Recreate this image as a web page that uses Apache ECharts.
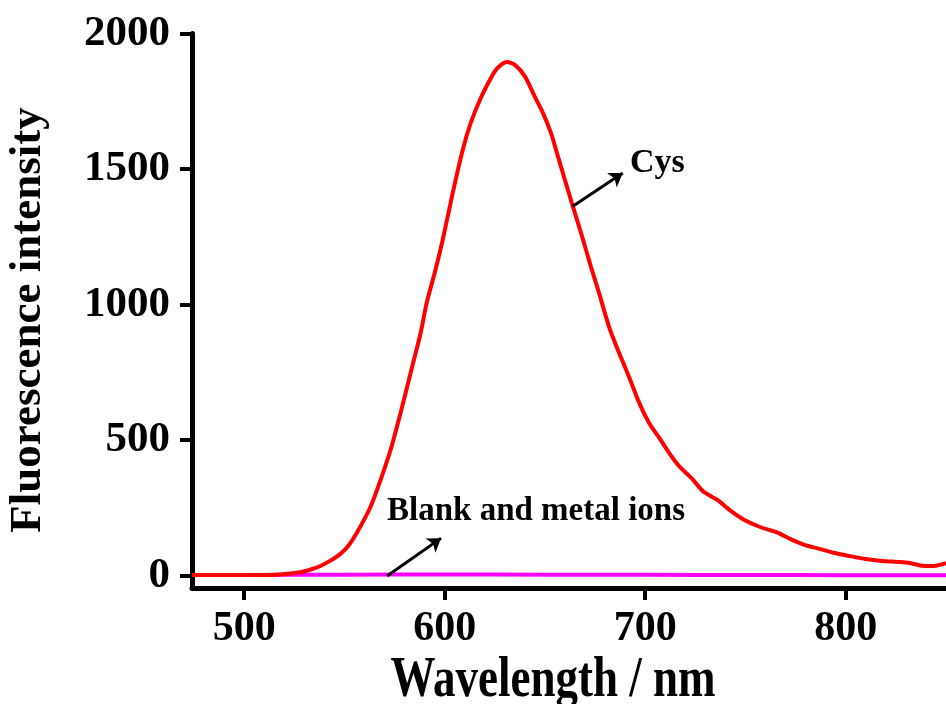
<!DOCTYPE html>
<html>
<head>
<meta charset="utf-8">
<script src="https://cdn.jsdelivr.net/npm/echarts@6/dist/echarts.min.js"></script>
<style>
  html, body { margin: 0; padding: 0; background: #fff; }
  #chart { width: 946px; height: 704px; }
</style>
</head>
<body>
<div id="chart"></div>
<script>
// Emission spectrum with Cys (nm, a.u.)
const wavelengths = [474, 503, 518, 528, 534, 538, 543, 548, 552, 556, 563, 568, 573, 578, 583, 588,
  591, 595, 599, 604, 609, 613, 618, 623, 626, 631, 635, 640, 645, 649, 653, 656, 660, 664, 668,
  673, 677, 682, 687, 692, 697, 702, 707, 712, 717, 723, 729, 736, 742, 749, 757, 766, 772, 779,
  786, 794, 802, 810, 818, 827, 832, 838, 843, 850];
const cysIntensity = [2, 2, 4, 12, 24, 35, 55, 80, 110, 155, 253, 352, 463, 600, 747, 895,
  1005, 1116, 1238, 1411, 1570, 1670, 1762, 1835, 1870, 1895, 1884, 1842, 1766, 1707, 1633, 1559, 1459, 1360, 1264,
  1138, 1042, 917, 821, 732, 637, 562, 508, 452, 403, 360, 310, 279, 242, 207, 180, 158, 136, 114,
  100, 84, 72, 61, 54, 50, 46, 36, 35, 46];

// Blank and metal ion solutions stay near the baseline
const blankWavelengths = [474, 500, 525, 550, 575, 600, 625, 650, 675, 700, 725, 750, 775, 800, 825, 850];
const blankIntensity = [2, 2, 3, 3, 4, 4, 4, 3, 3, 3, 2, 2, 2, 1, 1, 1];

const xTicks = [500, 600, 700, 800];
const yTicks = [0, 500, 1000, 1500, 2000];

const FONT = "'Liberation Serif', 'Times New Roman', serif";

const chart = echarts.init(document.getElementById('chart'), null, { renderer: 'canvas' });

const axisLineStyle = { color: '#000', width: 5 };

chart.setOption({
  backgroundColor: '#ffffff',
  animation: false,
  grid: { left: 192, right: 0, top: 33.5, bottom: 116, outerBoundsMode: 'none' },
  xAxis: {
    type: 'value',
    min: 474,
    max: 850,
    axisLine: { show: true, onZero: false, lineStyle: axisLineStyle },
    axisTick: { show: true, length: 12, lineStyle: { color: '#000', width: 4 }, customValues: xTicks },
    axisLabel: {
      customValues: xTicks, margin: 20, color: '#000',
      formatter: v => String(v),
      fontFamily: FONT, fontWeight: 'bold', fontSize: 42
    },
    splitLine: { show: false }
  },
  yAxis: {
    type: 'value',
    min: -46,
    max: 2000,
    axisLine: { show: true, onZero: false, lineStyle: axisLineStyle },
    axisTick: { show: true, length: 12, lineStyle: { color: '#000', width: 4 }, customValues: yTicks },
    axisLabel: {
      customValues: yTicks, margin: 22, color: '#000',
      formatter: v => String(v),
      fontFamily: FONT, fontWeight: 'bold', fontSize: 43
    },
    splitLine: { show: false }
  },
  series: [
    {
      name: 'Blank and metal ions',
      type: 'line',
      data: blankWavelengths.map((w, i) => [w, blankIntensity[i]]),
      showSymbol: false,
      lineStyle: { color: '#ff00ff', width: 4 },
      z: 2,
      markLine: {
        silent: true,
        symbol: ['none', 'arrow'],
        symbolSize: 13,
        label: { show: false },
        lineStyle: { color: '#000', width: 3, type: 'solid' },
        data: [[{ coord: [571.3, -2] }, { coord: [598.2, 138] }]]
      }
    },
    {
      name: 'Cys',
      type: 'line',
      data: wavelengths.map((w, i) => [w, cysIntensity[i]]),
      showSymbol: false,
      smooth: 0.25,
      lineStyle: { color: '#ff0000', width: 4 },
      z: 3,
      markLine: {
        silent: true,
        symbol: ['none', 'arrow'],
        symbolSize: 13,
        label: { show: false },
        lineStyle: { color: '#000', width: 3, type: 'solid' },
        data: [[{ coord: [663.9, 1363] }, { coord: [688.8, 1485] }]]
      }
    }
  ],
  graphic: [
    {
      type: 'text',
      x: 553, y: 681, scaleY: 1.27,
      style: {
        text: 'Wavelength / nm', x: 0, y: 0, align: 'center', verticalAlign: 'middle',
        font: "bold 45px " + FONT, fill: '#000'
      }
    },
    {
      type: 'text',
      x: 28, y: 320, rotation: Math.PI / 2,
      style: {
        text: 'Fluorescence intensity', x: 0, y: 0, align: 'center', verticalAlign: 'middle',
        font: "bold 45px " + FONT, fill: '#000'
      }
    },
    {
      type: 'text',
      x: 630, y: 163.5,
      style: {
        text: 'Cys', align: 'left', verticalAlign: 'middle',
        font: "bold 34px " + FONT, fill: '#000'
      }
    },
    {
      type: 'text',
      x: 387, y: 511,
      style: {
        text: 'Blank and metal ions', align: 'left', verticalAlign: 'middle',
        font: "bold 33px " + FONT, fill: '#000'
      }
    }
  ]
});
</script>
</body>
</html>
